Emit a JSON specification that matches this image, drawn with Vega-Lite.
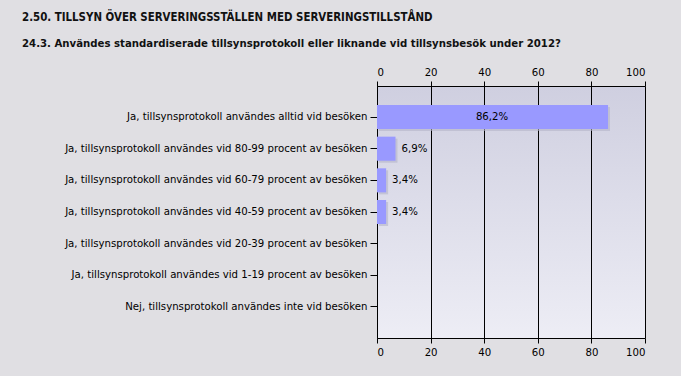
{
  "$schema": "https://vega.github.io/schema/vega-lite/v6.json",
  "autosize": "none",
  "width": 268,
  "height": 252,
  "padding": {"left": 377, "top": 86, "right": 36, "bottom": 38},
  "background": "#e0dfe3",
  "title": {
    "text": "2.50. TILLSYN ÖVER SERVERINGSSTÄLLEN MED SERVERINGSTILLSTÅND",
    "subtitle": "24.3. Användes standardiserade tillsynsprotokoll eller liknande vid tillsynsbesök under 2012?",
    "anchor": "start",
    "frame": "group",
    "dx": -355,
    "offset": 17,
    "font": "DejaVu Sans Condensed",
    "fontSize": 11.4,
    "fontWeight": "bold",
    "color": "#111111",
    "subtitleFont": "DejaVu Sans Condensed",
    "subtitleFontSize": 11.3,
    "subtitleFontWeight": "bold",
    "subtitleColor": "#111111",
    "subtitlePadding": 14
  },
  "data": {
    "values": [
      {"answer": "Ja, tillsynsprotokoll användes alltid vid besöken", "pct": 86.2, "label": "86,2%"},
      {"answer": "Ja, tillsynsprotokoll användes vid 80-99 procent av besöken", "pct": 6.9, "label": "6,9%"},
      {"answer": "Ja, tillsynsprotokoll användes vid 60-79 procent av besöken", "pct": 3.4, "label": "3,4%"},
      {"answer": "Ja, tillsynsprotokoll användes vid 40-59 procent av besöken", "pct": 3.4, "label": "3,4%"},
      {"answer": "Ja, tillsynsprotokoll användes vid 20-39 procent av besöken", "pct": 0, "label": ""},
      {"answer": "Ja, tillsynsprotokoll användes vid 1-19 procent av besöken", "pct": 0, "label": ""},
      {"answer": "Nej, tillsynsprotokoll användes inte vid besöken", "pct": 0, "label": ""}
    ]
  },
  "encoding": {
    "y": {
      "field": "answer",
      "type": "nominal",
      "sort": null,
      "scale": {"paddingInner": 0.24, "paddingOuter": 0.6},
      "axis": {
        "title": null,
        "labelFont": "DejaVu Sans Condensed",
        "labelFontSize": 11.3,
        "labelColor": "#000000",
        "labelPadding": 3,
        "labelLimit": 400,
        "tickSize": 7,
        "tickColor": "#000000",
        "domainColor": "#000000",
        "grid": false
      }
    }
  },
  "layer": [
    {
      "mark": {"type": "bar", "color": "#b4b4c8", "opacity": 0.6, "xOffset": 2, "yOffset": 2},
      "encoding": {
        "x": {"field": "pct", "type": "quantitative", "scale": {"domain": [0, 100], "nice": false}, "axis": null}
      }
    },
    {
      "mark": {"type": "bar", "color": "#9999ff"},
      "encoding": {
        "x": {
          "field": "pct",
          "type": "quantitative",
          "scale": {"domain": [0, 100], "nice": false},
          "axis": {
            "orient": "top",
            "title": null,
            "values": [0, 20, 40, 60, 80, 100],
            "labelFont": "DejaVu Sans Condensed",
            "labelFontSize": 11.3,
            "labelColor": "#000000",
            "labelPadding": 4,
            "tickSize": 5,
            "tickColor": "#000000",
            "domainColor": "#000000",
            "grid": true,
            "gridColor": "#000000",
            "gridOpacity": 1,
            "gridWidth": 1
          }
        }
      }
    },
    {
      "transform": [{"filter": "datum.pct > 0 && datum.pct < 50"}],
      "mark": {"type": "text", "align": "left", "dx": 6, "font": "DejaVu Sans Condensed", "fontSize": 11.3, "color": "#000000"},
      "encoding": {
        "x": {
          "field": "pct",
          "type": "quantitative",
          "scale": {"domain": [0, 100], "nice": false},
          "axis": {
            "orient": "bottom",
            "title": null,
            "values": [0, 20, 40, 60, 80, 100],
            "labelFont": "DejaVu Sans Condensed",
            "labelFontSize": 11.3,
            "labelColor": "#000000",
            "labelPadding": 3,
            "tickSize": 5,
            "tickColor": "#000000",
            "domainColor": "#000000",
            "grid": false
          }
        },
        "text": {"field": "label"}
      }
    },
    {
      "transform": [{"filter": "datum.pct >= 50"}],
      "mark": {"type": "text", "align": "center", "dx": -116, "font": "DejaVu Sans Condensed", "fontSize": 11.3, "color": "#000000"},
      "encoding": {
        "x": {"field": "pct", "type": "quantitative", "scale": {"domain": [0, 100], "nice": false}, "axis": null},
        "text": {"field": "label"}
      }
    }
  ],
  "resolve": {"axis": {"x": "independent"}},
  "config": {
    "view": {
      "stroke": null,
      "fill": {
        "gradient": "linear",
        "x1": 0, "y1": 0, "x2": 0, "y2": 1,
        "stops": [
          {"offset": 0, "color": "#cfcfe0"},
          {"offset": 1, "color": "#ededf5"}
        ]
      }
    }
  }
}
